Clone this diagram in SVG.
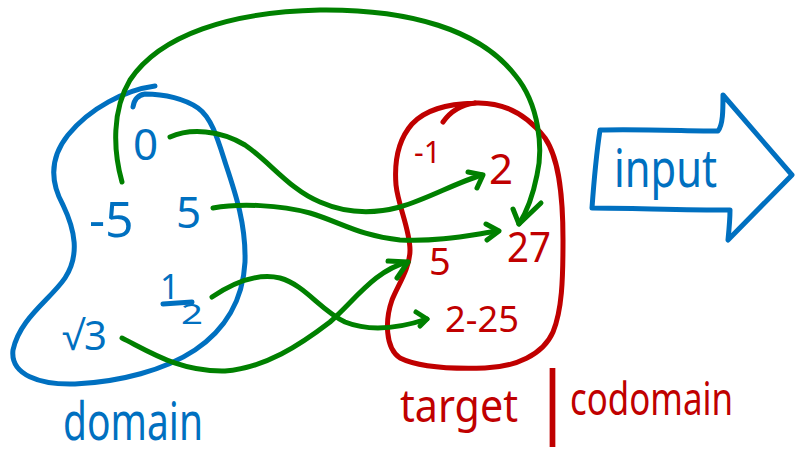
<svg xmlns="http://www.w3.org/2000/svg" width="796" height="454" viewBox="0 0 796 454">
  <style>
    .ink { fill: none; stroke-width: 5; stroke-linecap: round; stroke-linejoin: round; }
    .blue { stroke: #0070c0; }
    .red { stroke: #c00000; }
    .green { stroke: #008000; }
    text { font-family: "Noto Sans", "Open Sans", sans-serif; }
    .tb { fill: #0070c0; }
    .tr { fill: #c00000; }
  </style>
  <rect width="796" height="454" fill="#ffffff"/>

  <!-- domain set -->
  <g id="domain">
    <path class="ink blue" d="M155,86 C125,90 90,108 68,135 C48,160 52,185 63,205 C75,230 80,255 65,278 C50,300 20,318 13,350 C10,375 40,385 75,384 C120,382 165,370 195,350 C225,330 243,300 245,262 C246,225 236,195 226,165 C218,140 212,118 198,108 C185,99 165,94 145,94 C138,95 134,100 133,107"/>
    <text class="tb" x="133" y="160" font-size="44">0</text>
    <text class="tb" x="89" y="237" font-size="50">-5</text>
    <text class="tb" x="176" y="228" font-size="44">5</text>
    <!-- one half, drawn as a stacked fraction -->
    <text class="tb" x="160" y="299" font-size="34">1</text>
    <path class="ink blue" d="M163,304 L192,302" stroke-width="4"/>
    <text class="tb" x="181" y="324" font-size="28" textLength="22" lengthAdjust="spacingAndGlyphs">2</text>
    <text class="tb" x="62" y="350" font-size="40">√3</text>
    <text class="tb" x="63" y="440" font-size="52" textLength="140" lengthAdjust="spacingAndGlyphs">domain</text>
  </g>

  <!-- target / codomain set -->
  <g id="codomain">
    <path class="ink red" d="M443,122 C450,112 460,105 475,103"/>
    <path class="ink red" d="M475,103 C500,102 525,112 545,138 C560,160 563,200 563,240 C563,280 562,310 553,332 C543,355 515,367 485,368 C455,369 420,368 400,358 C385,348 385,320 392,300 C398,285 410,268 410,250 C410,230 398,205 396,185 C394,160 398,140 412,124 C425,110 445,104 475,103"/>
    <text class="tr" x="414" y="163" font-size="30">-1</text>
    <text class="tr" x="489" y="184" font-size="42">2</text>
    <text class="tr" x="429" y="275" font-size="38">5</text>
    <text class="tr" x="507" y="262" font-size="42" textLength="44" lengthAdjust="spacingAndGlyphs">27</text>
    <text class="tr" x="445" y="332" font-size="36" textLength="74" lengthAdjust="spacingAndGlyphs">2-25</text>
    <text class="tr" x="400" y="422" font-size="46" textLength="118" lengthAdjust="spacingAndGlyphs">target</text>
    <text class="tr" x="531" y="428" font-size="78">|</text>
    <text class="tr" x="570" y="415" font-size="46" textLength="163" lengthAdjust="spacingAndGlyphs">codomain</text>
  </g>

  <!-- input arrow -->
  <g id="input">
    <path class="ink blue" d="M600,130 C640,129 690,131 718,131 C723,125 723,110 723,95 L792,175 L728,240 C729,230 730,220 730,210 C680,210 630,208 592,208 C594,180 597,150 600,130 Z"/>
    <text class="tb" x="614" y="187" font-size="52" textLength="103" lengthAdjust="spacingAndGlyphs">input</text>
  </g>

  <!-- mapping arrows -->
  <g id="connectors" class="ink green">
    <!-- 0 -> 2 -->
    <path d="M170,137 C190,128 220,130 245,145 C270,162 290,190 320,202 C345,213 370,215 400,207 C430,198 455,183 482,175"/>
    <path d="M468,172 L483,175 L477,188"/>
    <!-- 5 -> 27 -->
    <path d="M213,208 C240,203 280,205 310,213 C340,222 360,236 400,240 C440,242 470,235 498,231"/>
    <path d="M486,224 L499,231 L487,240"/>
    <!-- -5 -> 27 -->
    <path d="M122,182 C113,150 112,110 130,80 C160,35 230,12 320,10 C410,9 480,30 515,75 C540,105 543,150 537,175 C533,195 528,210 519,224"/>
    <path d="M513,209 L519,224 L541,203"/>
    <!-- 1/2 -> 2.25 -->
    <path d="M212,297 C230,285 255,272 280,278 C305,285 320,310 345,322 C370,332 400,328 427,319"/>
    <path d="M416,312 L427,319 L420,326"/>
    <!-- √3 -> 5 -->
    <path d="M122,338 C150,352 180,372 225,371 C265,368 300,345 330,322 C355,300 375,270 408,262"/>
    <path d="M388,261 L408,262 L397,278"/>
  </g>
</svg>
